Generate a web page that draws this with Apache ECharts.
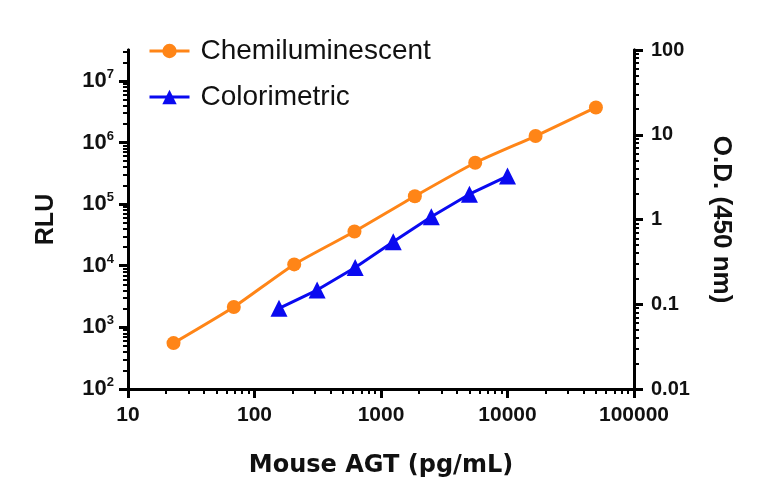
<!DOCTYPE html>
<html>
<head>
<meta charset="utf-8">
<script src="https://cdn.jsdelivr.net/npm/echarts@6/dist/echarts.min.js"></script>
<style>
html, body { margin: 0; padding: 0; background: #fff; }
#main { width: 768px; height: 504px; }
</style>
</head>
<body>
<div id="main"></div>
<script>
// standard curves
var chemiX = [22.9, 68.6, 206, 617, 1852, 5556, 16667, 50000];
var chemiY = [555, 2140, 10500, 35900, 134000, 468000, 1270000, 3700000];
var colorX = [156.25, 312.5, 625, 1250, 2500, 5000, 10000];
var colorY = [0.0895, 0.147, 0.272, 0.546, 1.08, 1.99, 3.25];

var xTicks = [10, 100, 1000, 10000, 100000];
var rluTicks = [1e2, 1e3, 1e4, 1e5, 1e6, 1e7];
var odTicks = [0.01, 0.1, 1, 10, 100];

var rluMax = Math.pow(10, 7.5);

// 2..9 x each decade, plus the decades themselves
function allTicks(lo, hi) {
    var out = [];
    for (var d = Math.pow(10, Math.floor(Math.log10(lo))); d <= hi * 1.0001; d *= 10) {
        for (var k = 1; k <= 9; k++) {
            var v = d * k;
            if (v >= lo * 0.9999 && v <= hi * 1.0001) out.push(v);
        }
    }
    return out;
}

function pairs(xs, ys) {
    var r = [];
    for (var i = 0; i < xs.length; i++) r.push([xs[i], ys[i]]);
    return r;
}

var labelFont = "'Liberation Sans', Arial, sans-serif";
var black = '#000';

// overlay axis drawing the longer major ticks only
function majorAxis(min, max, pos, ticks) {
    return {
        type: 'log',
        logBase: 10,
        min: min,
        max: max,
        position: pos,
        axisLine: { show: true, onZero: false, lineStyle: { color: black, width: 3 } },
        axisLabel: { show: true, customValues: ticks, formatter: function () { return ''; } },
        splitLine: { show: false },
        axisTick: { show: true, length: 9, customValues: ticks, lineStyle: { color: black, width: 3 } }
    };
}

var option = {
    animation: false,
    grid: { left: 128, right: 134, top: 50, bottom: 115, containLabel: false },
    legend: {
        orient: 'vertical',
        left: 143,
        top: 32,
        itemWidth: 40,
        itemHeight: 18,
        itemGap: 18,
        lineStyle: { width: 3 },
        textStyle: { fontFamily: labelFont, fontSize: 28, color: '#111', padding: [0, 0, 0, 6] },
        data: ['Chemiluminescent', 'Colorimetric']
    },
    xAxis: [
        {
            type: 'log',
            logBase: 10,
            min: 10,
            max: 100000,
            name: 'Mouse AGT (pg/mL)',
            nameLocation: 'middle',
            nameGap: 65,
            nameTextStyle: { fontFamily: "'DejaVu Sans', sans-serif", fontWeight: 'bold', fontSize: 24, color: '#111' },
            axisLine: { onZero: false, lineStyle: { color: black, width: 3 } },
            axisTick: { length: 5, customValues: allTicks(10, 100000), lineStyle: { color: black, width: 2 } },
            axisLabel: {
                customValues: xTicks,
                margin: 16,
                fontFamily: labelFont, fontWeight: 'bold', fontSize: 21, color: '#111',
                formatter: function (v) { return String(Math.round(v)); }
            },
            splitLine: { show: false }
        },
        majorAxis(10, 100000, 'bottom', xTicks)
    ],
    yAxis: [
        {
            type: 'log',
            logBase: 10,
            min: 100,
            max: rluMax,
            position: 'left',
            name: 'RLU',
            nameLocation: 'middle',
            nameRotate: 90,
            nameGap: 69,
            nameTextStyle: { fontFamily: labelFont, fontWeight: 'bold', fontSize: 25, color: '#111' },
            axisLine: { onZero: false, lineStyle: { color: black, width: 3 } },
            axisTick: { length: 5, customValues: allTicks(100, rluMax), lineStyle: { color: black, width: 2 } },
            axisLabel: {
                customValues: rluTicks,
                margin: 14,
                formatter: function (v) {
                    return '{b|10}{s|' + Math.round(Math.log10(v)) + '}';
                },
                rich: {
                    b: { fontFamily: labelFont, fontWeight: 'bold', fontSize: 22, color: '#111', lineHeight: 26 },
                    s: { fontFamily: labelFont, fontWeight: 'bold', fontSize: 13, color: '#111', verticalAlign: 'top', lineHeight: 13 }
                }
            },
            splitLine: { show: false }
        },
        {
            type: 'log',
            logBase: 10,
            min: 0.01,
            max: 100,
            position: 'right',
            name: 'O.D. (450 nm)',
            nameLocation: 'middle',
            nameRotate: -90,
            nameGap: 74,
            nameTextStyle: { fontFamily: labelFont, fontWeight: 'bold', fontSize: 26, color: '#111' },
            axisLine: { onZero: false, lineStyle: { color: black, width: 3 } },
            axisTick: { length: 5, customValues: allTicks(0.01, 100), lineStyle: { color: black, width: 2 } },
            axisLabel: {
                customValues: odTicks,
                margin: 17,
                fontFamily: labelFont, fontWeight: 'bold', fontSize: 20, color: '#111',
                formatter: function (v) { return String(Number(v.toPrecision(3))); }
            },
            splitLine: { show: false }
        },
        majorAxis(100, rluMax, 'left', rluTicks),
        majorAxis(0.01, 100, 'right', odTicks)
    ],
    series: [
        {
            name: 'Chemiluminescent',
            type: 'line',
            xAxisIndex: 0,
            yAxisIndex: 0,
            data: pairs(chemiX, chemiY),
            smooth: 0.2,
            symbol: 'circle',
            symbolSize: 14,
            lineStyle: { color: '#FF8517', width: 3 },
            itemStyle: { color: '#FF8517' }
        },
        {
            name: 'Colorimetric',
            type: 'line',
            xAxisIndex: 0,
            yAxisIndex: 1,
            data: pairs(colorX, colorY),
            symbol: 'triangle',
            symbolSize: 17,
            lineStyle: { color: '#0A0AF0', width: 3 },
            itemStyle: { color: '#0A0AF0' }
        },
        { type: 'line', xAxisIndex: 1, yAxisIndex: 2, data: [], silent: true },
        { type: 'line', xAxisIndex: 1, yAxisIndex: 3, data: [], silent: true }
    ]
};

var chart = echarts.init(document.getElementById('main'));
chart.setOption(option);
</script>
</body>
</html>
